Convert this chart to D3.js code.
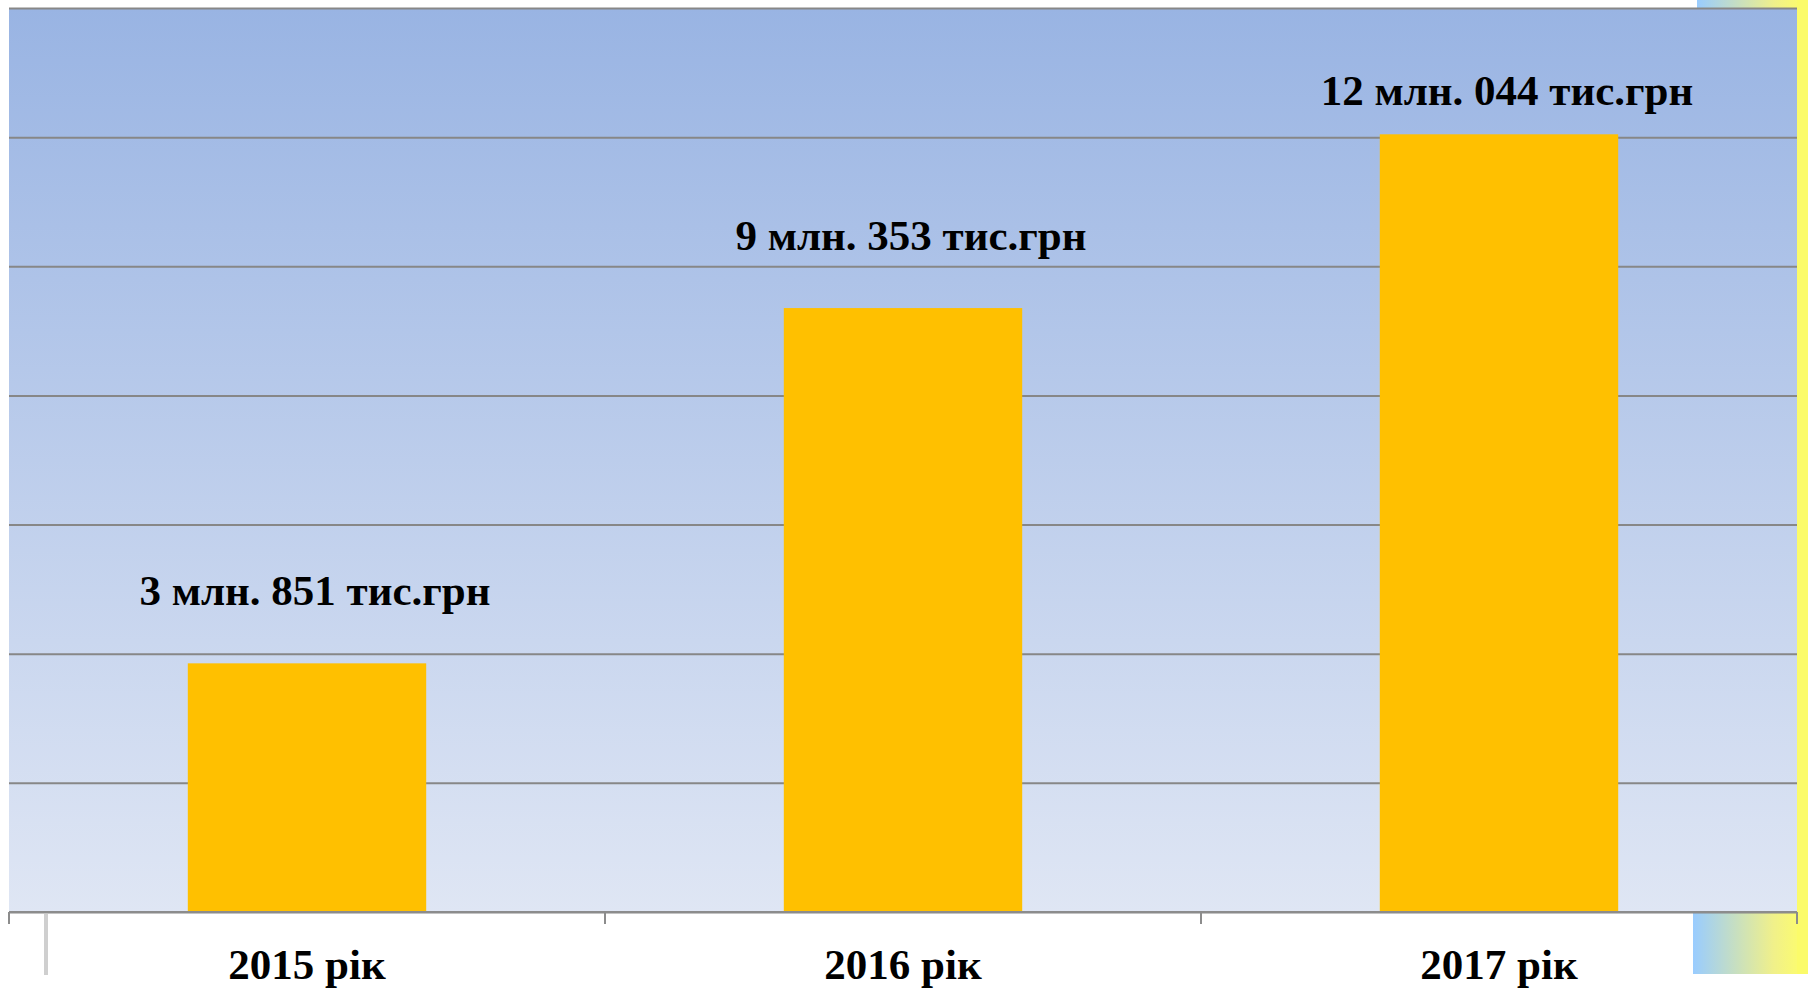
<!DOCTYPE html>
<html>
<head>
<meta charset="utf-8">
<script src="https://cdn.jsdelivr.net/npm/d3@7"></script>
<style>
    body { margin: 0; background: #ffffff; }
    svg { display: block; }
    .valueLabel, .yearLabel {
        font-family: "Liberation Serif", "Times New Roman", serif;
        font-weight: bold;
        font-size: 43px;
        fill: #000000;
    }
</style>
</head>
<body>
<script>
// chart data
var years = ["2015 рік", "2016 рік", "2017 рік"];
var amounts = [3.851, 9.353, 12.044];   // million UAH
var amountLabels = ["3 млн. 851 тис.грн", "9 млн. 353 тис.грн", "12 млн. 044 тис.грн"];
var gridTicks = [0, 2, 4, 6, 8, 10, 12, 14];

window.onload = function(){

    // SVG dimensions
    var w = 1808,
        h = 988;

    var plot = { left: 9, right: 1797, top: 8, bottom: 912 };

    var svg = d3.select("body")
        .append("svg")
        .attr("width", w)
        .attr("height", h);

    var data = years.map(function(d, i){
        return { year: d, value: amounts[i], label: amountLabels[i] };
    });

    // gradients
    var defs = svg.append("defs");

    var bg = defs.append("linearGradient")
        .attr("id", "bgGrad")
        .attr("x1", 0).attr("y1", 0)
        .attr("x2", 0).attr("y2", 1);
    bg.append("stop").attr("offset", "0%").attr("stop-color", "#99b4e3");
    bg.append("stop").attr("offset", "100%").attr("stop-color", "#dfe6f4");

    var flag = defs.append("linearGradient")
        .attr("id", "flagGrad")
        .attr("x1", 0).attr("y1", 0)
        .attr("x2", 1).attr("y2", 0);
    flag.append("stop").attr("offset", "0%").attr("stop-color", "#99ccff");
    flag.append("stop").attr("offset", "70%").attr("stop-color", "#f0f08a");
    flag.append("stop").attr("offset", "100%").attr("stop-color", "#ffff66");

    // slide decoration (corner blocks and yellow strip)
    svg.append("rect")
        .attr("x", 1697).attr("y", 0)
        .attr("width", 111).attr("height", 8)
        .style("fill", "url(#flagGrad)");
    svg.append("rect")
        .attr("x", 1693).attr("y", 912)
        .attr("width", 115).attr("height", 62)
        .style("fill", "url(#flagGrad)");
    svg.append("rect")
        .attr("x", 1797).attr("y", 0)
        .attr("width", 11).attr("height", 974)
        .style("fill", "#fbfb6a");
    svg.append("line")
        .attr("x1", 46).attr("x2", 46)
        .attr("y1", 914).attr("y2", 975)
        .style("stroke", "#cfcfcf")
        .style("stroke-width", 4);

    // plot background
    svg.append("rect")
        .attr("x", plot.left)
        .attr("y", plot.top)
        .attr("width", plot.right - plot.left)
        .attr("height", plot.bottom - plot.top)
        .style("fill", "url(#bgGrad)");

    // scales
    var x = d3.scaleBand()
        .domain(years)
        .range([plot.left, plot.right])
        .paddingInner(0.6)
        .paddingOuter(0.3);

    var y = d3.scaleLinear()
        .domain([0, 14])
        .range([plot.bottom, plot.top]);

    // gridlines
    var grid = svg.append("g")
        .attr("transform", "translate(" + plot.left + ",0)")
        .call(d3.axisLeft(y)
            .tickValues(gridTicks)
            .tickSize(-(plot.right - plot.left))
            .tickFormat(""));
    grid.select(".domain").remove();
    grid.selectAll(".tick line")
        .style("stroke", "#878787")
        .style("stroke-width", 2);

    // bars
    svg.selectAll(".bar")
        .data(data)
        .enter()
        .append("rect")
        .attr("class", "bar")
        .attr("x", function(d){ return x(d.year); })
        .attr("width", x.bandwidth())
        .attr("y", function(d){ return y(d.value); })
        .attr("height", function(d){ return y(0) - y(d.value); })
        .style("fill", "#ffc000");

    // x axis line and category ticks
    svg.append("line")
        .attr("x1", plot.left).attr("x2", plot.right)
        .attr("y1", y(0)).attr("y2", y(0))
        .style("stroke", "#8c8c8c")
        .style("stroke-width", 2);

    var bounds = d3.range(years.length + 1).map(function(i){
        return plot.left + i * x.step();
    });

    svg.selectAll(".catTick")
        .data(bounds)
        .enter()
        .append("line")
        .attr("class", "catTick")
        .attr("x1", function(d){ return d; })
        .attr("x2", function(d){ return d; })
        .attr("y1", y(0))
        .attr("y2", y(0) + 12)
        .style("stroke", "#8c8c8c")
        .style("stroke-width", 2);

    // category labels
    svg.selectAll(".yearLabel")
        .data(data)
        .enter()
        .append("text")
        .attr("class", "yearLabel")
        .attr("text-anchor", "middle")
        .attr("x", function(d){ return x(d.year) + x.bandwidth() / 2; })
        .attr("y", y(0) + 67)
        .text(function(d){ return d.year; });

    // value labels, kept inside the plot area at the top
    svg.selectAll(".valueLabel")
        .data(data)
        .enter()
        .append("text")
        .attr("class", "valueLabel")
        .attr("text-anchor", "middle")
        .attr("x", function(d){ return x(d.year) + x.bandwidth() / 2 + 8; })
        .attr("y", function(d){
            return Math.max(y(d.value) - 58, plot.top + 97);
        })
        .text(function(d){ return d.label; });
};
</script>
</body>
</html>
